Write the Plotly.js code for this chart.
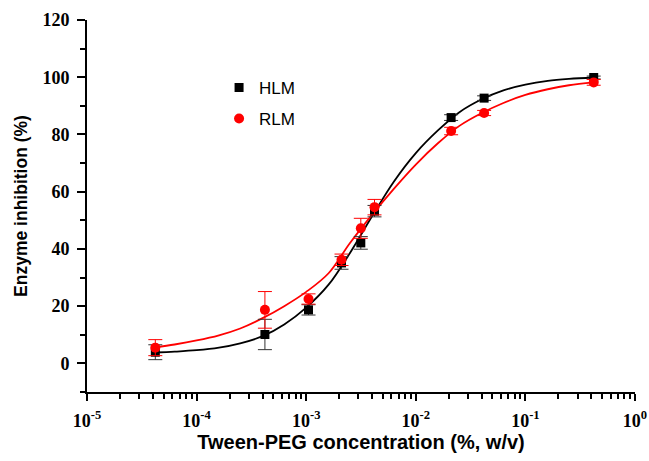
<!DOCTYPE html>
<html>
<head>
<meta charset="utf-8">
<script src="https://cdn.plot.ly/plotly-3.0.1.min.js"></script>
<style>html,body{margin:0;padding:0;background:#fff;}#chart{width:649px;height:461px;}</style>
</head>
<body>
<div id="chart"></div>
<script>
// Measured points (concentration %, w/v)
var conc = [4.2e-5, 4.2e-4, 1.05e-3, 2.1e-3, 3.15e-3, 4.2e-3, 2.1e-2, 4.2e-2, 0.42];
var hlm = [3.9, 10.1, 18.7, 35.1, 42.1, 53.2, 85.9, 92.7, 99.9];
var hlmErr = [2.6, 5.3, 1.8, 2.2, 2.2, 2.0, 1.0, 0.8, 0.5];
var rlm = [5.5, 18.7, 22.5, 36.2, 47.2, 54.6, 81.2, 87.5, 98.2];
var rlmErr = [2.8, 6.4, 1.8, 2.0, 3.5, 2.7, 1.3, 0.9, 1.0];

// Fitted curves
var curveX = [4.2e-5, 6.3e-5, 1.0e-4, 1.6e-4, 2.5e-4, 4.0e-4, 6.3e-4, 1.0e-3, 1.6e-3, 2.5e-3, 4.0e-3, 6.3e-3, 1.0e-2, 1.6e-2, 2.5e-2, 4.0e-2, 6.3e-2, 0.1, 0.16, 0.25, 0.42];
var hlmCurve = [3.8, 4.1, 4.6, 5.5, 7.0, 9.5, 13.6, 19.5, 27.5, 38.5, 51.5, 63.5, 73.5, 81.5, 87.8, 92.3, 95.4, 97.4, 98.7, 99.4, 99.9];
var rlmCurve = [5.6, 6.6, 8.0, 9.8, 12.2, 15.8, 20.0, 25.0, 31.5, 42.0, 52.0, 61.0, 69.5, 77.0, 83.0, 87.5, 91.0, 93.8, 95.8, 97.2, 98.2];

var xTickVals = [1e-5, 1e-4, 1e-3, 1e-2, 1e-1, 1];
var xTickText = ['10<sup>-5</sup>', '10<sup>-4</sup>', '10<sup>-3</sup>', '10<sup>-2</sup>', '10<sup>-1</sup>', '10<sup>0</sup>'];
var yTickVals = [0, 20, 40, 60, 80, 100, 120];
var minorDigits = [2, 3, 4, 5, 6, 7, 8, 9];

var xMinor = [];
xTickVals.slice(0, -1).forEach(function (d) {
  minorDigits.forEach(function (k) { xMinor.push(d * k); });
});

var black = '#000000';
var red = '#ff0000';

// curves on the base x axis (drawn underneath); points on the overlaid x2 axis (same log scale, carries minor ticks)
var traces = [
  {x: curveX, y: hlmCurve, mode: 'lines', line: {color: black, width: 1.8, shape: 'spline', smoothing: 1}, showlegend: false, hoverinfo: 'skip'},
  {x: curveX, y: rlmCurve, mode: 'lines', line: {color: red, width: 1.8, shape: 'spline', smoothing: 1}, showlegend: false, hoverinfo: 'skip'},
  {x: conc, y: hlm, xaxis: 'x2', name: 'HLM', mode: 'markers', legendgroup: 'a',
   marker: {symbol: 'square', size: 9, color: black},
   error_y: {type: 'data', array: hlmErr, visible: true, color: '#333', thickness: 1, width: 7}},
  {x: conc, y: rlm, xaxis: 'x2', name: 'RLM', mode: 'markers', legendgroup: 'b',
   marker: {symbol: 'circle', size: 10, color: red},
   error_y: {type: 'data', array: rlmErr, visible: true, color: red, thickness: 1, width: 7}}
];

var tickFont = {family: 'Liberation Serif, Times New Roman, serif', size: 18, color: '#000', weight: 'bold'};

var layout = {
  width: 649, height: 461,
  margin: {l: 87, r: 14, t: 20, b: 69},
  paper_bgcolor: '#fff', plot_bgcolor: '#fff',
  showlegend: true,
  legend: {x: 0.241, y: 0.866, xanchor: 'left', yanchor: 'top', traceorder: 'grouped', tracegroupgap: 6,
           font: {family: 'Liberation Sans, Arial, sans-serif', size: 17, color: '#000'}, bgcolor: 'rgba(0,0,0,0)'},
  xaxis: {
    type: 'log', range: [-5, 0], tickmode: 'array', tickvals: xTickVals, ticktext: xTickText,
    showline: true, linecolor: '#000', linewidth: 2, mirror: false, showgrid: false, zeroline: false,
    ticks: 'outside', ticklen: 7, tickwidth: 2, tickcolor: '#000', tickfont: tickFont, ticklabelstandoff: 4,
    title: {text: 'Tween-PEG concentration (%, w/v)', font: {family: 'Liberation Sans, Arial, sans-serif', size: 20, color: '#000', weight: 'bold'}, standoff: 2}
  },
  xaxis2: {
    type: 'log', range: [-5, 0], overlaying: 'x', anchor: 'y', side: 'bottom',
    tickmode: 'array', tickvals: xMinor, showticklabels: false,
    ticks: 'outside', ticklen: 6, tickwidth: 2, tickcolor: '#000',
    showgrid: false, zeroline: false, showline: false
  },
  yaxis: {
    range: [-10, 120], tickmode: 'array', tickvals: yTickVals,
    showline: true, linecolor: '#000', linewidth: 2, mirror: false, showgrid: false, zeroline: false,
    ticks: 'outside', ticklen: 8, tickwidth: 2, tickcolor: '#000', tickfont: tickFont, ticklabelstandoff: 4,
    minor: {ticks: 'outside', ticklen: 5, tickwidth: 2, tickcolor: '#000', dtick: 10, tick0: 0, showgrid: false},
    title: {text: 'Enzyme inhibition (%)', font: {family: 'Liberation Sans, Arial, sans-serif', size: 17.5, color: '#000', weight: 'bold'}, standoff: 10}
  }
};

Plotly.newPlot('chart', traces, layout, {displayModeBar: false, staticPlot: true});
</script>
</body>
</html>
